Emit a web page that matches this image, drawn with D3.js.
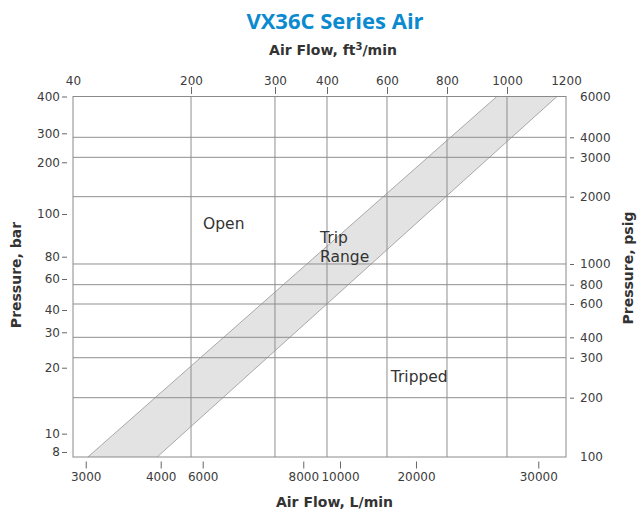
<!DOCTYPE html>
<html>
<head>
<meta charset="utf-8">
<script src="https://cdn.jsdelivr.net/npm/d3@7"></script>
<style>
  html, body { margin: 0; padding: 0; background: #fff; }
  svg { display: block; }
</style>
</head>
<body>
<div id="chart"></div>
<script>
// ---------------- Data ----------------
const title = "VX36C Series Air";
// Axis tick labels
const flowCfmTicks = [40, 200, 300, 400, 600, 800, 1000, 1200];          // top, ft³/min
const flowLpmTicks = [3000, 4000, 6000, 8000, 10000, 20000, 30000];     // bottom, L/min
const pressureBarTicks = [8, 10, 20, 30, 40, 60, 80, 100, 200, 300, 400]; // left, bar
const pressurePsigTicks = [100, 200, 300, 400, 600, 800, 1000, 2000, 3000, 4000, 6000]; // right, psig

// Trip range band (ft³/min at given psig)
const tripPsig     = [100, 6000];
const tripLowFlow  = [49, 963];
const tripHighFlow = [126, 1167];

// Region labels (ft³/min, psig)
const regionLabels = ["Open", "Trip\nRange", "Tripped"];
const regionFlow   = [212, 385, 611];
const regionPsig   = [1434, 1245, 235];

// ---------------- Layout ----------------
const W = 639, H = 511;
const X0 = 73, X1 = 566, Y0 = 96.5, Y1 = 457;
const PW = X1 - X0, PH = Y1 - Y0;

// Axis calibration (fraction of plot width/height where each tick sits; the printed axes are not uniform)
const cfmFrac  = [0, 0.2394, 0.4097, 0.5152, 0.6369, 0.7586, 0.8803, 1];
const lpmFrac  = [0.0258, 0.1779, 0.2631, 0.4671, 0.5416, 0.6957, 0.9438];
const barFrac  = [0.9861, 0.9353, 0.7523, 0.6541, 0.5922, 0.5062, 0.4444, 0.3259, 0.1825, 0.1021, 0];
const psigFrac = [1, 0.8355, 0.7246, 0.6680, 0.5756, 0.5220, 0.4646, 0.2779, 0.1687, 0.1132, 0];

const xCfm  = d3.scaleLog().domain(flowCfmTicks).range(cfmFrac.map(f => X0 + f * PW));
const xLpm  = d3.scaleLog().domain(flowLpmTicks).range(lpmFrac.map(f => X0 + f * PW));
const yBar  = d3.scaleLog().domain(pressureBarTicks).range(barFrac.map(f => Y0 + f * PH));
const yPsig = d3.scaleLog().domain(pressurePsigTicks).range(psigFrac.map(f => Y0 + f * PH));

const svg = d3.select("#chart").append("svg")
  .attr("width", W).attr("height", H)
  .attr("viewBox", `0 0 ${W} ${H}`);

const FONT = "'DejaVu Sans', Verdana, sans-serif";
const gridColor = "#8f8f8f";

// Band
const bandPts = [
  [xCfm(tripLowFlow[0]),  yPsig(tripPsig[0])],
  [xCfm(tripLowFlow[1]),  yPsig(tripPsig[1])],
  [xCfm(tripHighFlow[1]), yPsig(tripPsig[1])],
  [xCfm(tripHighFlow[0]), yPsig(tripPsig[0])]
];
svg.append("path")
  .attr("d", d3.line()(bandPts) + "Z")
  .attr("fill", "#e3e3e3")
  .attr("stroke", "none");
svg.append("path")
  .attr("d", d3.line()([bandPts[0], bandPts[1]]))
  .attr("stroke", "#a8a8a8").attr("fill", "none").attr("stroke-width", 1);
svg.append("path")
  .attr("d", d3.line()([bandPts[3], bandPts[2]]))
  .attr("stroke", "#a8a8a8").attr("fill", "none").attr("stroke-width", 1);

// Grid
const hGrid = pressurePsigTicks.slice(1, -1);
const vGrid = flowCfmTicks.slice(1, -1);
svg.append("g").selectAll("line").data(hGrid).join("line")
  .attr("x1", X0).attr("x2", X1)
  .attr("y1", d => yPsig(d)).attr("y2", d => yPsig(d))
  .attr("stroke", gridColor).attr("stroke-width", 1);
svg.append("g").selectAll("line").data(vGrid).join("line")
  .attr("y1", Y0).attr("y2", Y1)
  .attr("x1", d => xCfm(d)).attr("x2", d => xCfm(d))
  .attr("stroke", gridColor).attr("stroke-width", 1);

// Border
svg.append("rect")
  .attr("x", X0).attr("y", Y0).attr("width", PW).attr("height", PH)
  .attr("fill", "none").attr("stroke", "#8a8a8a").attr("stroke-width", 1);

// Axes
function styleAxis(g, noTick) {
  g.select(".domain").remove();
  g.selectAll(".tick line").attr("stroke", "#666");
  g.selectAll(".tick text").attr("fill", "#3c3c3c")
    .style("font-family", FONT).style("font-size", "12px");
  if (noTick) g.selectAll(".tick line").filter(noTick).remove();
}
const fmt = d3.format("d");

svg.append("g").attr("transform", "translate(0,94)")
  .call(d3.axisTop(xCfm).tickValues(flowCfmTicks).tickSize(7).tickPadding(2).tickFormat(fmt))
  .call(g => styleAxis(g, d => d === 40 || d === 1200));

svg.append("g").attr("transform", "translate(0,461.5)")
  .call(d3.axisBottom(xLpm).tickValues(flowLpmTicks).tickSize(7).tickPadding(4).tickFormat(fmt))
  .call(g => styleAxis(g));

svg.append("g").attr("transform", "translate(67,0)")
  .call(d3.axisLeft(yBar).tickValues(pressureBarTicks).tickSize(5).tickPadding(2).tickFormat(fmt))
  .call(g => styleAxis(g));

svg.append("g").attr("transform", "translate(570,0)")
  .call(d3.axisRight(yPsig).tickValues(pressurePsigTicks).tickSize(4).tickPadding(6).tickFormat(fmt))
  .call(g => styleAxis(g, d => d === 100 || d === 6000));

// Titles
svg.append("text")
  .attr("x", 335).attr("y", 28.5)
  .attr("text-anchor", "middle")
  .style("font-family", "'Open Sans', sans-serif")
  .style("font-weight", 700).style("font-size", "22px")
  .attr("fill", "#0b8ad0")
  .text(title);

const topTitle = svg.append("text")
  .attr("x", 333).attr("y", 55)
  .attr("text-anchor", "middle")
  .style("font-family", FONT).style("font-weight", 700).style("font-size", "14px")
  .attr("fill", "#333");
topTitle.append("tspan").text("Air Flow, ft");
topTitle.append("tspan").attr("dy", -5).style("font-size", "10px").text("3");
topTitle.append("tspan").attr("dy", 5).text("/min");

svg.append("text")
  .attr("x", 334.5).attr("y", 506.5)
  .attr("text-anchor", "middle")
  .style("font-family", FONT).style("font-weight", 700).style("font-size", "14px")
  .attr("fill", "#333")
  .text("Air Flow, L/min");

svg.append("text")
  .attr("transform", "translate(21,275) rotate(-90)")
  .attr("text-anchor", "middle")
  .style("font-family", FONT).style("font-weight", 700).style("font-size", "14px")
  .attr("fill", "#333")
  .text("Pressure, bar");

svg.append("text")
  .attr("transform", "translate(633,268) rotate(-90)")
  .attr("text-anchor", "middle")
  .style("font-family", FONT).style("font-weight", 700).style("font-size", "14px")
  .attr("fill", "#333")
  .text("Pressure, psig");

// Region labels
regionLabels.forEach((lab, i) => {
  const t = svg.append("text")
    .attr("x", xCfm(regionFlow[i])).attr("y", yPsig(regionPsig[i]))
    .style("font-family", FONT).style("font-size", "15.5px")
    .attr("fill", "#333");
  lab.split("\n").forEach((line, j) => {
    t.append("tspan").attr("x", xCfm(regionFlow[i])).attr("dy", j === 0 ? 0 : 19).text(line);
  });
});
</script>
</body>
</html>
